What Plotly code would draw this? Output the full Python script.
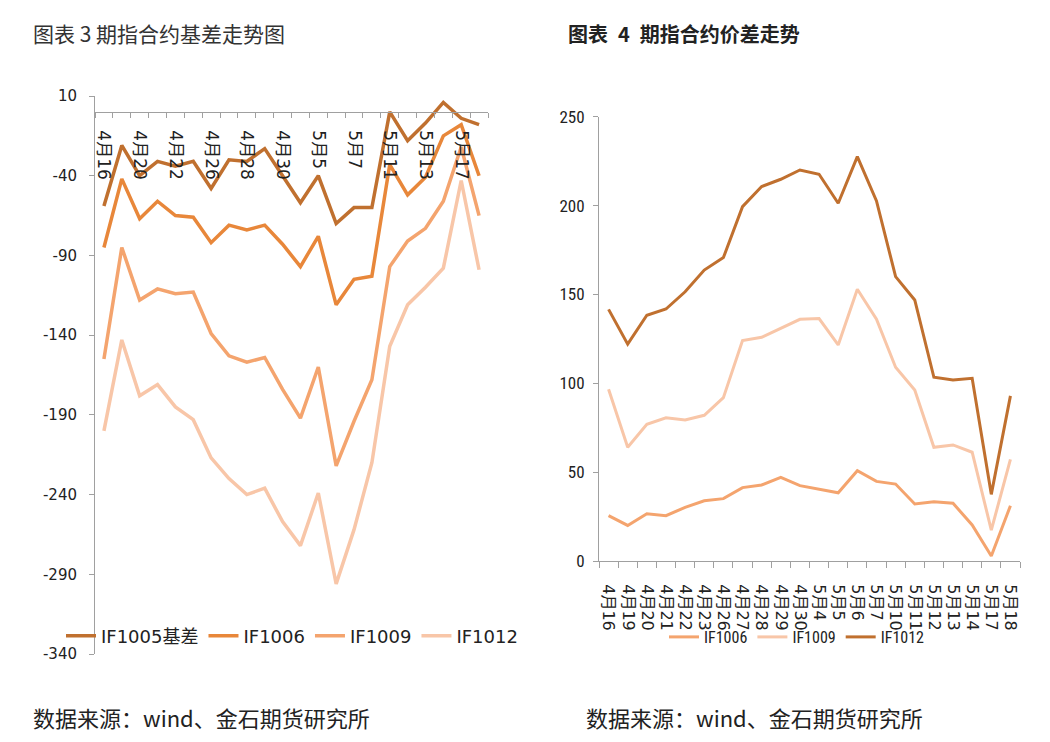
import plotly.graph_objects as go

dates = ["4月16", "4月19", "4月20", "4月21", "4月22", "4月23", "4月26", "4月27", "4月28", "4月29", "4月30",
         "5月4", "5月5", "5月6", "5月7", "5月10", "5月11", "5月12", "5月13", "5月14", "5月17", "5月18"]

# Chart 3: basis
if1005_basis = [-59, -21, -40, -31, -34, -31, -48, -30, -31, -23, -40, -57, -40, -70, -60, -60, 0, -18, -7, 6, -4, -8]
if1006_basis = [-85, -42, -67, -56, -65, -66, -82, -71, -74, -71, -83, -97, -78, -121, -105, -103, -33, -52, -41, -15, -8, -40]
if1009_basis = [-155, -85, -118, -111, -114, -113, -139, -153, -157, -154, -174, -192, -160, -222, -194, -168, -97, -81, -73, -56, -22, -65]
if1012_basis = [-200, -143, -178, -171, -185, -193, -217, -230, -240, -236, -257, -272, -239, -296, -262, -220, -147, -121, -110, -98, -43, -99]
left_yticks = [10, -40, -90, -140, -190, -240, -290, -340]
left_yticktext = ["10", "-40", "-90", "-140", "-190", "-240", "-290", "-340"]

# Chart 4: spreads
if1006_spread = [25.5, 20, 26.6, 25.5, 30.2, 33.9, 35.1, 41.3, 42.8, 47.1, 42.4, 40.3, 38.4, 50.8, 44.8, 43.3, 32.1, 33.4, 32.5, 20.3, 2.8, 31.1]
if1009_spread = [96.6, 64, 76.9, 80.6, 79.3, 82, 91.9, 124, 125.9, 131, 136, 136.4, 121.6, 152.9, 136, 109, 96.2, 64, 65.3, 61.2, 17.4, 57.2]
if1012_spread = [141.6, 122, 138.3, 141.8, 151.5, 163.7, 170.7, 199.4, 210.7, 214.8, 220, 217.6, 201.3, 227.5, 202.6, 160, 146.9, 103.4, 101.9, 102.8, 37.5, 92.9]
right_yticks = [0, 50, 100, 150, 200, 250]

left_ticktext = [d if i % 2 == 0 else "" for i, d in enumerate(dates)]

C_DARK = "#C0702F"
C_ORANGE = "#E8873A"
C_MID = "#F4A46E"
C_LIGHT = "#F8C6A8"

LFONT = "DejaVu Sans, Noto Sans CJK SC"
RFONT = "Liberation Sans Narrow, Roboto Condensed, Noto Sans CJK SC"
TFONT = "Noto Sans CJK SC"
AX = "#A0A0A0"

# page body has an 8px margin: figure is sized so that it fits the window
OFF = 8
W, H = 1050 - OFF, 742 - OFF


def px(x):
    return (x - OFF) / W


def py(y):
    return 1 - (y - OFF) / H


fig = go.Figure()

left = [("IF1005基差", if1005_basis, C_DARK), ("IF1006", if1006_basis, C_ORANGE),
        ("IF1009", if1009_basis, C_MID), ("IF1012", if1012_basis, C_LIGHT)]
for name, vals, col in left:
    fig.add_trace(go.Scatter(x=dates, y=vals, name=name, mode="lines",
                             line=dict(color=col, width=3.5),
                             xaxis="x", yaxis="y", legend="legend"))

right = [("IF1006", if1006_spread, C_MID), ("IF1009", if1009_spread, C_LIGHT),
         ("IF1012", if1012_spread, C_DARK)]
for name, vals, col in right:
    fig.add_trace(go.Scatter(x=dates, y=vals, name=name, mode="lines",
                             line=dict(color=col, width=3),
                             xaxis="x2", yaxis="y2", legend="legend2"))

y0_pix = 96 + 10 * (558 / 350)
fig.update_layout(
    width=W, height=H,
    margin=dict(l=0, r=0, t=0, b=0, autoexpand=False),
    paper_bgcolor="white", plot_bgcolor="white",
    showlegend=True,
    xaxis=dict(domain=[px(95), px(488)], anchor="free", position=py(y0_pix),
               type="category", tickmode="array", tickvals=dates, ticktext=left_ticktext,
               tickson="boundaries", ticks="outside", ticklen=5, tickcolor=AX,
               tickangle=90, showline=True, linecolor=AX, linewidth=1,
               showgrid=False, zeroline=False, range=[-0.5, 21.5], automargin=False,
               ticklabelstandoff=14,
               tickfont=dict(family=LFONT, size=17, color="#222")),
    yaxis=dict(domain=[py(654), py(96)], anchor="x", range=[-340, 10],
               tickmode="array", tickvals=left_yticks, ticktext=left_yticktext,
               ticks="outside", ticklen=5, tickcolor=AX,
               showline=True, linecolor=AX, linewidth=1, automargin=False,
               showgrid=False, zeroline=False, ticklabelstandoff=9,
               tickfont=dict(family=LFONT, size=15, color="#222")),
    xaxis2=dict(domain=[px(599), px(1020)], anchor="y2",
                type="category", tickson="boundaries", ticks="outside", ticklen=6,
                tickcolor=AX, tickangle=90, showline=True, linecolor=AX,
                linewidth=1, showgrid=False, zeroline=False, range=[-0.5, 21.5],
                automargin=False, ticklabelstandoff=19,
                tickfont=dict(family=LFONT, size=16, color="#222")),
    yaxis2=dict(domain=[py(561), py(116.7)], anchor="x2", range=[0, 250],
                tickmode="array", tickvals=right_yticks,
                ticks="outside", ticklen=5, tickcolor=AX,
                showline=True, linecolor=AX, linewidth=1, automargin=False,
                showgrid=False, zeroline=False, ticklabelstandoff=5,
                tickfont=dict(family=RFONT, size=17, color="#222")),
    legend=dict(orientation="h", x=px(61), y=py(636), xanchor="left", yanchor="middle",
                font=dict(family=LFONT, size=18, color="#222"), bgcolor="rgba(0,0,0,0)",
                itemwidth=30),
    legend2=dict(orientation="h", x=px(664), y=py(637), xanchor="left", yanchor="middle",
                 font=dict(family=RFONT, size=16, color="#222"), bgcolor="rgba(0,0,0,0)",
                 itemwidth=30),
    annotations=[
        dict(text="图表 3 期指合约基差走势图", x=px(31), y=py(33), xref="paper", yref="paper",
             xanchor="left", yanchor="middle", showarrow=False,
             font=dict(family=TFONT, size=21, color="#333")),
        dict(text="<b>图表\u20024\u2002期指合约价差走势</b>", x=px(566), y=py(33), xref="paper", yref="paper",
             xanchor="left", yanchor="middle", showarrow=False,
             font=dict(family=TFONT, size=20, color="#222")),
        dict(text="数据来源：wind、金石期货研究所", x=px(31), y=py(717), xref="paper", yref="paper",
             xanchor="left", yanchor="middle", showarrow=False,
             font=dict(family=TFONT, size=22, color="#222")),
        dict(text="数据来源：wind、金石期货研究所", x=px(584), y=py(717), xref="paper", yref="paper",
             xanchor="left", yanchor="middle", showarrow=False,
             font=dict(family=TFONT, size=22, color="#222")),
    ],
)

fig.write_html("out.html")
